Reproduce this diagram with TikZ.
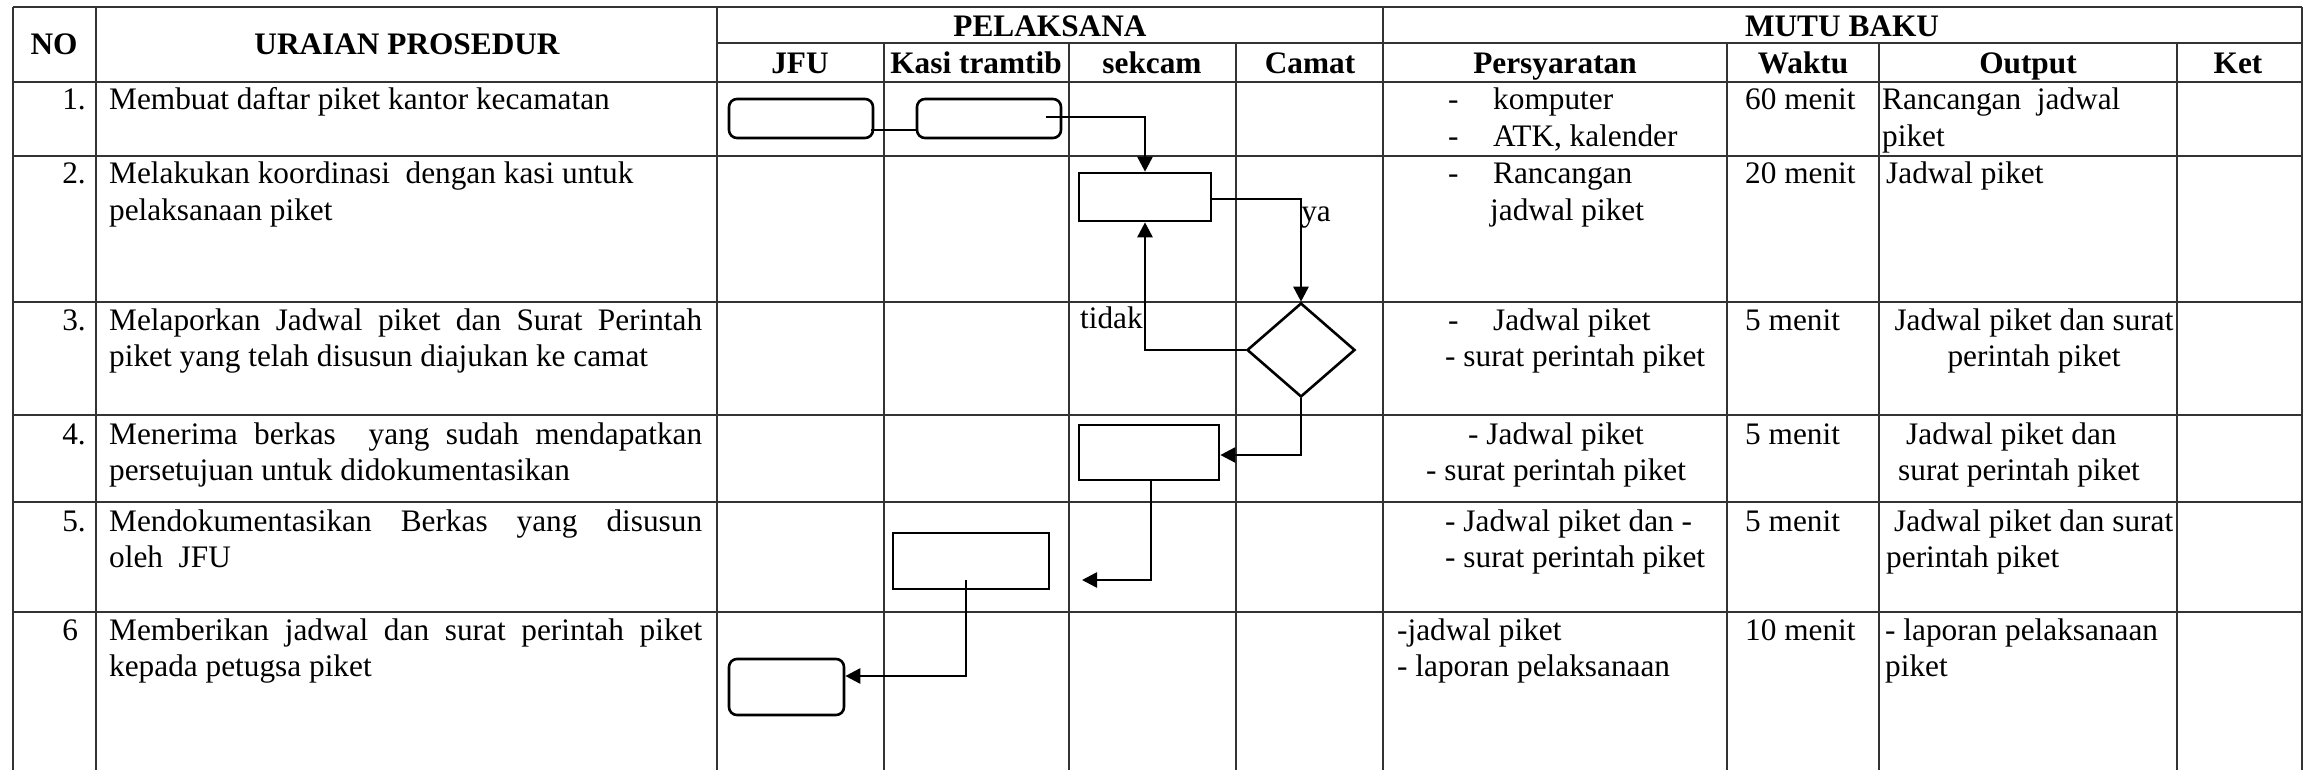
\documentclass[tikz,border=0pt]{standalone}
\usepackage{fontspec}
\setmainfont{Liberation Serif}
\usetikzlibrary{arrows.meta,shapes.geometric}
\begin{document}
\begin{tikzpicture}[x=1pt,y=-1pt,
  every node/.style={font=\fontsize{31.3}{36.5}\selectfont, inner sep=0pt},
  tl/.style={anchor=base west},
  tr/.style={anchor=base east},
  tc/.style={anchor=base},
  hd/.style={anchor=base, font=\fontsize{31.3}{36.5}\selectfont\bfseries},
  gridline/.style={line width=1.6pt, draw=black!80},
  flow/.style={line width=2.6pt, -{Triangle[length=15pt,width=15pt]}},
  link/.style={line width=2.6pt},
  proc/.style={draw, line width=2.6pt, rectangle},
  term/.style={proc, rounded corners=8pt},
  dec/.style={draw, line width=2.6pt, diamond, minimum width=108pt, minimum height=94pt}
]
\useasboundingbox (0,0) rectangle (2309,770);

% table grid
\draw[gridline] (13,7) -- (2302,7);
\draw[gridline] (717,43) -- (2302,43);
\foreach \y in {82,156,302,415,502,612} \draw[gridline] (13,\y) -- (2302,\y);
\foreach \x in {13,96,717,1383,2302} \draw[gridline] (\x,7) -- (\x,770);
\foreach \x in {884,1069,1236,1727,1879,2177} \draw[gridline] (\x,43) -- (\x,770);

% headers
\node[hd] (hNO) at (54,55) {NO};
\node[hd] (hUR) at (407,55) {URAIAN PROSEDUR};
\node[hd] (hPL) at (1050,37) {PELAKSANA};
\node[hd] (hMB) at (1842,37) {MUTU BAKU};
\node[hd] (hJFU) at (800,74) {JFU};
\node[hd] (hKT) at (976,74) {Kasi tramtib};
\node[hd] (hSK) at (1152,74) {sekcam};
\node[hd] (hCM) at (1310,74) {Camat};
\node[hd] (hPS) at (1555,74) {Persyaratan};
\node[hd] (hWK) at (1803,74) {Waktu};
\node[hd] (hOP) at (2028,74) {Output};
\node[hd] (hKE) at (2238,74) {Ket};

% row 1
\node[tr] (n1) at (86,110) {1.};
\node[tl] (u1) at (109,110) {Membuat daftar piket kantor kecamatan};
\node[tl] (p1a) at (1448,110) {-};
\node[tl] (p1b) at (1493,110) {komputer};
\node[tl] (p1c) at (1448,146.5) {-};
\node[tl] (p1d) at (1493,146.5) {ATK, kalender};
\node[tl] (w1) at (1745,110) {60 menit};
\node[tl] (o1a) at (1882,110) {Rancangan~ jadwal};
\node[tl] (o1b) at (1882,146.5) {piket};

% row 2
\node[tr] (n2) at (86,184) {2.};
\node[tl] (u2a) at (109,184) {Melakukan koordinasi~ dengan kasi untuk};
\node[tl] (u2b) at (109,220.5) {pelaksanaan piket};
\node[tl] (p2a) at (1448,184) {-};
\node[tl] (p2b) at (1493,184) {Rancangan};
\node[tl] (p2c) at (1490,220.5) {jadwal piket};
\node[tl] (w2) at (1745,184) {20 menit};
\node[tl] (o2) at (1886,184) {Jadwal piket};

% row 3
\node[tr] (n3) at (86,330) {3.};
\node[tl] (u3a) at (109,330) {\makebox[593pt][s]{Melaporkan Jadwal piket dan Surat Perintah}};
\node[tl] (u3b) at (109,366.5) {piket yang telah disusun diajukan ke camat};
\node[tl] (p3a) at (1448,330) {-};
\node[tl] (p3b) at (1493,330) {Jadwal piket};
\node[tl] (p3c) at (1445,366.5) {- surat perintah piket};
\node[tl] (w3) at (1745,330) {5 menit};
\node[tc] (o3a) at (2034,330) {Jadwal piket dan surat};
\node[tc] (o3b) at (2034,366.5) {perintah piket};

% row 4
\node[tr] (n4) at (86,444) {4.};
\node[tl] (u4a) at (109,444) {\makebox[593pt][s]{Menerima berkas~ yang sudah mendapatkan}};
\node[tl] (u4b) at (109,480.5) {persetujuan untuk didokumentasikan};
\node[tc] (p4a) at (1556,444) {- Jadwal piket};
\node[tc] (p4b) at (1556,480.5) {- surat perintah piket};
\node[tl] (w4) at (1745,444) {5 menit};
\node[tl] (o4a) at (1906,444) {Jadwal piket dan};
\node[tl] (o4b) at (1898,480.5) {surat perintah piket};

% row 5
\node[tr] (n5) at (86,531) {5.};
\node[tl] (u5a) at (109,531) {\makebox[593pt][s]{Mendokumentasikan Berkas yang disusun}};
\node[tl] (u5b) at (109,567.5) {oleh~ JFU};
\node[tl] (p5a) at (1445,531) {- Jadwal piket dan -};
\node[tl] (p5b) at (1445,567.5) {- surat perintah piket};
\node[tl] (w5) at (1745,531) {5 menit};
\node[tl] (o5a) at (1894,531) {Jadwal piket dan surat};
\node[tl] (o5b) at (1886,567.5) {perintah piket};

% row 6
\node[tr] (n6) at (86,640) {6\phantom{.}};
\node[tl] (u6a) at (109,640) {\makebox[593pt][s]{Memberikan jadwal dan surat perintah piket}};
\node[tl] (u6b) at (109,676.5) {kepada petugsa piket};
\node[tl] (p6a) at (1397,640) {-jadwal piket};
\node[tl] (p6b) at (1397,676.5) {- laporan pelaksanaan};
\node[tl] (w6) at (1745,640) {10 menit};
\node[tl] (o6a) at (1885,640) {- laporan pelaksanaan};
\node[tl] (o6b) at (1885,676.5) {piket};

% flow shapes
\node[term, minimum width=144pt, minimum height=39pt] (b1) at (801,118.5) {};
\node[term, minimum width=144pt, minimum height=39pt] (b2) at (989,118.5) {};
\node[proc, minimum width=132pt, minimum height=48pt] (r2) at (1145,197) {};
\node[dec] (d3) at (1301,350) {};
\node[proc, minimum width=140pt, minimum height=55pt] (r4) at (1149,452.5) {};
\node[proc, minimum width=156pt, minimum height=56pt] (r5) at (971,561) {};
\node[term, minimum width=115pt, minimum height=56pt] (b6) at (786.5,687) {};
\coordinate (c5) at (1082,580);

% connectors
\draw[link] ([xshift=-3pt,yshift=-11.5pt]b1.east) -- ([yshift=-11.5pt]b2.west);
\draw[flow] ([xshift=-16pt,yshift=1.5pt]b2.east) -| (r2.north);
\draw[flow] ([yshift=-2pt]r2.east) -| (d3.north)
  node[pos=0.61, anchor=base west, xshift=-1pt] (ya) {ya};
\draw[flow] (d3.west) -| (r2.south)
  node[pos=0.585, anchor=base east, xshift=-1pt] (tidak) {tidak};
\draw[flow] (d3.south) |- ([yshift=-2.5pt]r4.east);
\draw[flow] ([xshift=2pt]r4.south) |- (c5);
\draw[flow] ([xshift=-5pt,yshift=-19pt]r5.center) |- ([yshift=11pt]b6.east);
\end{tikzpicture}
\end{document}
